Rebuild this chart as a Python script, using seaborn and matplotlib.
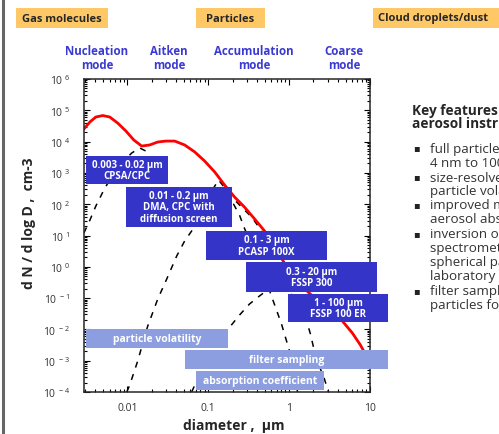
import math

import matplotlib
matplotlib.use("Agg")
import matplotlib.pyplot as plt
from matplotlib.lines import Line2D
from matplotlib.patches import Rectangle
from matplotlib.ticker import FixedLocator, FuncFormatter, LogLocator, NullFormatter
import seaborn as sns

sns.set_style("ticks")
plt.rcParams["font.family"] = ["Open Sans", "DejaVu Sans"]

# total number size distribution (red curve), diameter in um
total_d = [0.00289, 0.00343, 0.00406, 0.00496, 0.00604, 0.00758, 0.00953, 0.0120,
           0.0150, 0.0188, 0.0237, 0.0297, 0.0384, 0.0510, 0.0677, 0.0900, 0.120,
           0.159, 0.211, 0.280, 0.373, 0.496, 0.659, 0.828, 1.10, 1.46, 1.94,
           2.58, 3.42, 4.55, 6.04, 7.59, 9.8]
total_n = [2.53e4, 4.23e4, 6.1e4, 6.8e4, 6.1e4, 3.9e4, 2.2e4, 1.12e4,
           7.2e3, 7.8e3, 9.7e3, 1.04e4, 1.04e4, 7.8e3, 4.7e3, 2.4e3, 1.07e3,
           410, 170, 81, 34, 14, 4.3, 1.65, 0.51, 0.23, 0.117,
           0.065, 0.033, 0.0185, 0.0077, 0.0032, 0.00098]

# individual modes (dashed curves)
nucleation_d = [0.00289, 0.00343, 0.00406, 0.00496, 0.0064, 0.0085, 0.0113, 0.01419,
                0.01683, 0.01995, 0.0251, 0.0315, 0.0384, 0.0588, 0.1038, 0.1637,
                0.205, 0.243, 0.280, 0.343, 0.430, 0.525, 0.622, 0.804, 1.01, 1.16, 1.27]
nucleation_n = [12, 31, 87, 245, 800, 2070, 4330, 6250,
                5010, 2780, 1150, 442, 245, 183, 158, 136,
                101, 45, 17, 5.0, 1.32, 0.33, 0.094, 0.0149, 0.00204, 3.8e-4, 1e-4]

aitken_d = [0.0098, 0.01067, 0.01339, 0.01781, 0.0237, 0.0306, 0.0406, 0.0510, 0.0622,
            0.0781, 0.098, 0.1162, 0.134, 0.1637, 0.2053, 0.265, 0.3424, 0.430,
            0.5702, 0.8035, 1.067, 1.34]
aitken_n = [1e-4, 1.67e-4, 9.8e-4, 0.0128, 0.0935, 0.407, 2.2, 6.7, 13.9,
            39, 117, 330, 593, 306, 147, 76, 39, 17.4,
            5.35, 1.53, 0.472, 0.195]

accumulation_d = [0.0622, 0.0738, 0.090, 0.1197, 0.1683, 0.2434, 0.3234, 0.430, 0.5395,
                  0.6774, 0.875, 1.164, 1.460, 1.683, 1.834, 1.997, 2.30, 2.73, 3.06]
accumulation_n = [1e-4, 2.6e-4, 6.8e-4, 0.00237, 0.0089, 0.0288, 0.0648, 0.117, 0.182,
                  0.244, 0.21, 0.108, 0.0387, 0.0149, 0.00713, 0.00274, 7.9e-4, 2.6e-4, 1e-4]

x_ticks = [0.01, 0.1, 1, 10]
x_tick_labels = ["0.01", "0.1", "1", "10"]

header_labels = ["Gas molecules", "Particles", "Cloud droplets/dust"]
mode_labels = ["Nucleation\nmode", "Aitken\nmode", "Accumulation\nmode", "Coarse\nmode"]
instrument_labels = ["0.003 - 0.02 \u00b5m\nCPSA/CPC",
                     "0.01 - 0.2 \u00b5m\nDMA, CPC with\ndiffusion screen",
                     "0.1 - 3 \u00b5m\nPCASP 100X",
                     "0.3 - 20 \u00b5m\nFSSP 300",
                     "1 - 100 \u00b5m\nFSSP 100 ER"]
method_labels = ["particle volatility", "filter sampling", "absorption coefficient"]
key_title = ["Key features of the", "aerosol instrumentation"]
key_lines = ["full particle size range from", "4 nm to 100 \u00b5m",
             "size-resolved measurements of", "particle volatility",
             "improved measurements of", "aerosol absorption",
             "inversion of optical particle", "spectrometer data for non-",
             "spherical particles using", "laboratory calibrations",
             "filter sampling of", "particles for analysis"]
key_bullet = [True, False, True, False, True, False, True, False, False, False, True, False]

# layout in image pixels
W, H = 499, 435
header_boxes = [(16, 9, 108, 29), (196, 9, 265, 29), (373, 9, 505, 29)]
mode_x = [97, 169, 254, 344]
instrument_boxes = [(86, 157, 168, 185), (126, 188, 232, 228), (206, 232, 327, 261),
                    (246, 263, 377, 293), (288, 295, 388, 323)]
method_boxes = [(86, 330, 228, 349), (185, 351, 388, 370), (196, 372, 324, 391)]
title_rows = [111, 124]
key_rows = [149, 163, 178, 192, 206, 220, 235, 249, 263, 277, 292, 306]

dark_blue = "#3434c8"
light_blue = "#8c9ee0"
orange = "#ffc866"
mode_blue = "#3a3ad2"


def fx(x):
    return x / W


def fy(y):
    return 1 - y / H


fig = plt.figure(figsize=(W / 100, H / 100), dpi=100)
ax = fig.add_axes([fx(84), fy(393), 286 / W, 313 / H])

dash = (0, (4, 4.5))
sns.lineplot(x=nucleation_d, y=nucleation_n, ax=ax, color="black", lw=1.1,
             linestyle=dash, sort=False, estimator=None)
sns.lineplot(x=aitken_d, y=aitken_n, ax=ax, color="black", lw=1.1,
             linestyle=dash, sort=False, estimator=None)
sns.lineplot(x=accumulation_d, y=accumulation_n, ax=ax, color="black", lw=1.1,
             linestyle=dash, sort=False, estimator=None)
sns.lineplot(x=total_d, y=total_n, ax=ax, color="#ff0000", lw=2.0,
             sort=False, estimator=None)

ax.set_xscale("log")
ax.set_yscale("log")
ax.set_xlim(0.0029, 10)
ax.set_ylim(1e-4, 1e6)

ax.xaxis.set_major_locator(FixedLocator(x_ticks))
ax.set_xticklabels(x_tick_labels)
ax.xaxis.set_minor_locator(LogLocator(base=10, subs=range(2, 10), numticks=20))
ax.xaxis.set_minor_formatter(NullFormatter())
ax.yaxis.set_major_locator(LogLocator(base=10, numticks=20))
ax.yaxis.set_minor_locator(LogLocator(base=10, subs=range(2, 10), numticks=20))
ax.yaxis.set_minor_formatter(NullFormatter())
ax.yaxis.set_major_formatter(FuncFormatter(
    lambda v, p: r"$\mathregular{10^{\ %d}}$" % round(math.log10(v))))

ax.tick_params(which="both", direction="in", top=True, right=True,
               colors="black", labelcolor="#333333", labelsize=7.5, width=0.8)
ax.tick_params(which="major", length=4)
ax.tick_params(axis="x", which="major", pad=7)
ax.tick_params(axis="y", which="major", pad=10)
ax.tick_params(which="minor", length=2.2)
for s in ax.spines.values():
    s.set_linewidth(1.1)

ax.set_xlabel("diameter ,  \u00b5m", fontsize=10, fontweight="bold")
ax.set_ylabel("d N / d log D ,  cm-3", fontsize=10, fontweight="bold")
ax.xaxis.set_label_coords((234 - 84) / 286, (393 - 419) / 313)
ax.yaxis.set_label_coords((36 - 84) / 286, (393 - 223) / 313)

# frame line at the left edge
fig.add_artist(Line2D([fx(2.5), fx(2.5)], [0, 1], color="#666666", lw=2.2,
                      transform=fig.transFigure))

# header boxes
for label, (x0, y0, x1, y1) in zip(header_labels, header_boxes):
    fig.add_artist(Rectangle((fx(x0), fy(y1)), (x1 - x0) / W, (y1 - y0) / H,
                             color=orange, lw=0, transform=fig.transFigure, zorder=3))
    cx = (x0 + x1) / 2 if x1 <= W else 378
    fig.text(fx(cx), fy((y0 + y1) / 2), label, fontsize=8, fontweight="bold",
             ha="center" if x1 <= W else "left", va="center", zorder=4)

for label, x in zip(mode_labels, mode_x):
    fig.text(fx(x), fy(58.5), label, fontsize=8.3, fontweight="bold", color=mode_blue,
             ha="center", va="center", linespacing=1.15)

for label, (x0, y0, x1, y1) in zip(instrument_labels, instrument_boxes):
    fig.add_artist(Rectangle((fx(x0), fy(y1)), (x1 - x0) / W, (y1 - y0) / H,
                             color=dark_blue, lw=0, transform=fig.transFigure, zorder=3))
    fig.text(fx((x0 + x1) / 2), fy((y0 + y1) / 2), label, fontsize=7,
             fontweight="bold", color="white", ha="center", va="center",
             linespacing=1.1, zorder=4)

for label, (x0, y0, x1, y1) in zip(method_labels, method_boxes):
    fig.add_artist(Rectangle((fx(x0), fy(y1)), (x1 - x0) / W, (y1 - y0) / H,
                             color=light_blue, lw=0, transform=fig.transFigure, zorder=3))
    fig.text(fx((x0 + x1) / 2), fy((y0 + y1) / 2), label, fontsize=7.5,
             fontweight="bold", color="white", ha="center", va="center", zorder=4)

# key features text (cut by the right edge as in the slide)
for line, y in zip(key_title, title_rows):
    fig.text(fx(412), fy(y), line, fontsize=9.8, fontweight="bold",
             ha="left", va="center")
for line, bullet, y in zip(key_lines, key_bullet, key_rows):
    if bullet:
        fig.text(fx(413), fy(y), "\u25aa", fontsize=7, color="#222222",
                 ha="left", va="center")
    fig.text(fx(430), fy(y), line, fontsize=9.6, color="#333333",
             ha="left", va="center")

fig.savefig("out.png", dpi=100)
